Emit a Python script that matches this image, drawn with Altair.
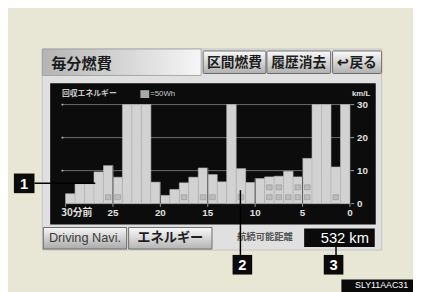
import altair as alt
import pandas as pd

# ---------------- data ----------------
# per-minute fuel economy (km/L), oldest (30 min ago) -> newest
fuel_km_l = [3.0, 6.0, 6.0, 9.6, 11.5, 8.0, 30.0, 30.0, 30.0, 6.5,
             2.5, 4.3, 6.3, 8.0, 10.8, 8.8, 6.6, 30.0, 10.6, 6.4,
             7.6, 8.1, 8.3, 9.8, 8.1, 13.7, 30.0, 30.0, 11.1, 30.0]
# regenerated energy blocks per minute (1 block = 50Wh)
regen_blocks = [0, 0, 0, 0, 1, 1, 0, 0, 0, 0, 0, 0, 1, 0, 1, 1, 0, 0, 1, 0,
                0, 2, 2, 1, 2, 2, 0, 0, 1, 0]
x_ticks = [30, 25, 20, 15, 10, 5, 0]
x_tick_labels = ["30分前", "25", "20", "15", "10", "5", "0"]
y_ticks = [0, 10, 20, 30]
y_tick_labels = ["0", "10", "20", "30"]
grid_levels = [10, 20, 30]
range_km = 532

# ---------------- tables ----------------
n = len(fuel_km_l)
bars = pd.DataFrame({
    "start": [30 - i for i in range(n)],
    "end": [29 - i for i in range(n)],
    "kml": fuel_km_l,
})
blk_rows = []
for i, c in enumerate(regen_blocks):
    for k in range(c):
        blk_rows.append({"start": 30 - i, "end": 29 - i,
                         "b0": 1.2 + 3.0 * k, "b1": 2.7 + 3.0 * k})
blocks = pd.DataFrame(blk_rows)
marks5 = []
for t in x_ticks[1:-1]:
    i = 30 - t
    marks5.append({"t": t, "top": max(fuel_km_l[i - 1], fuel_km_l[i])})
marks5 = pd.DataFrame(marks5)
grid = pd.DataFrame({"v": grid_levels})
xt = pd.DataFrame({"t": x_ticks, "lab": x_tick_labels})
yt = pd.DataFrame({"v": y_ticks, "lab": y_tick_labels})
one = pd.DataFrame({"k": [0]})

# ---------------- layout helpers (page pixels -> plot pixels) ----------------
X0, Y0 = 66.7, 103.7
W, H = 290, 101


def vx(X):
    return X - X0


def vy(Y):
    return Y - Y0


def box(x1, y1, x2, y2, fill, stroke=None, sw=0, **kw):
    m = dict(fill=fill, **kw)
    if stroke:
        m.update(stroke=stroke, strokeWidth=sw)
    return alt.Chart(one).mark_rect(**m).encode(
        x=alt.value(vx(x1)), x2=alt.value(vx(x2)),
        y=alt.value(vy(y1)), y2=alt.value(vy(y2)))


def label(X, Y, s, size, color, weight="normal", font="Noto Sans CJK JP",
          align="center", **kw):
    return alt.Chart(one).mark_text(
        text=s, fontSize=size, color=color, fontWeight=weight, font=font,
        align=align, baseline="middle", **kw).encode(
        x=alt.value(vx(X)), y=alt.value(vy(Y)))


def line(x1, y1, x2, y2, color="#000000", w=1.5):
    return alt.Chart(one).mark_rule(color=color, strokeWidth=w).encode(
        x=alt.value(vx(x1)), x2=alt.value(vx(x2)),
        y=alt.value(vy(y1)), y2=alt.value(vy(y2)))


def vgrad(c1, c2):
    return alt.LinearGradient(gradient="linear", x1=0, x2=0, y1=0, y2=1,
                              stops=[alt.GradientStop(color=c1, offset=0),
                                     alt.GradientStop(color=c2, offset=1)])


def hgrad(c1, c2):
    return alt.LinearGradient(gradient="linear", x1=0, x2=1, y1=0, y2=0,
                              stops=[alt.GradientStop(color=c1, offset=0),
                                     alt.GradientStop(color=c2, offset=1)])


xs = alt.Scale(domain=[30, 0], nice=False, zero=False)
ys = alt.Scale(domain=[0, 30], nice=False)

layers = []
# panel
layers.append(box(43, 47, 389, 252, "#e0e0e0", "#c4c4c4", 1))
# title bar
layers.append(box(43, 47, 205, 74, hgrad("#b4b4b4", "#f6f6f6"), "#9a9a9a", 0.8))
layers.append(label(52, 62, "毎分燃費", 15.5, "#1c1c1c", "bold", align="left"))
# top buttons
for (a, b, s) in [(207, 271, "区間燃費"), (272, 337, "履歴消去"), (339, 389, "↩戻る")]:
    layers.append(box(a, 49, b, 72, vgrad("#fafafa", "#b0b0b0"), "#6a6a6a", 1,
                      cornerRadius=1))
    layers.append(label((a + b) / 2, 61, s, 14, "#1e1e1e", "bold"))
# bottom buttons
layers.append(box(44, 229, 129, 251, vgrad("#f6f6f6", "#aaaaaa"), "#6a6a6a", 1))
layers.append(label(86.5, 240, "Driving Navi.", 13, "#3a3a3a",
                    font="Liberation Sans"))
layers.append(box(131, 229, 216, 251, vgrad("#fafafa", "#b4b4b4"), "#6a6a6a", 1))
layers.append(label(173.5, 240, "エネルギー", 13.5, "#1e1e1e", "bold"))
layers.append(label(270, 239, "航続可能距離", 9.5, "#555555", "bold"))
layers.append(box(310, 230, 382, 249, "#0a0a0a"))
layers.append(label(351.5, 240, f"{range_km} km", 15, "#ffffff",
                    font="Liberation Sans"))
# chart background
layers.append(box(51, 82, 383, 226, "#0c0c0c"))
layers.append(label(63, 93, "回収エネルギー", 8, "#c8c8c8", "bold", align="left"))
layers.append(box(143, 89, 152, 97, "#a8a8a8"))
layers.append(label(153, 93, "=50Wh", 8, "#c8c8c8", align="left",
                    font="Liberation Sans"))
layers.append(label(368, 93, "km/L", 8, "#e0e0e0", "bold",
                    font="Liberation Sans"))

# gridlines (with start dots)
layers.append(alt.Chart(grid).mark_rule(color="#6e6e6e", strokeWidth=1).encode(
    y=alt.Y("v:Q", scale=ys, axis=None),
    x=alt.value(vx(63)), x2=alt.value(vx(360))))
layers.append(alt.Chart(grid).mark_square(color="#bdbdbd", size=3, opacity=1).encode(
    y=alt.Y("v:Q", scale=ys, axis=None), x=alt.value(vx(63.5))))

# bars
layers.append(alt.Chart(bars).mark_rect(
    fill="#d2d2d2", stroke="#b8b8b8", strokeWidth=0.6).encode(
    x=alt.X("start:Q", scale=xs, axis=None),
    x2="end:Q",
    y=alt.Y("kml:Q", scale=ys, axis=None),
    y2=alt.datum(0)))

# regen blocks
layers.append(alt.Chart(blocks).mark_rect(
    fill="#bcbcbc", stroke="#949494", strokeWidth=0.6,
    xOffset=2, x2Offset=-2).encode(
    x=alt.X("start:Q", scale=xs, axis=None), x2="end:Q",
    y=alt.Y("b0:Q", scale=ys, axis=None), y2="b1:Q"))

# 5-minute markers
layers.append(alt.Chart(marks5).mark_rule(color="#555555", strokeWidth=1).encode(
    x=alt.X("t:Q", scale=xs, axis=None),
    y=alt.Y("top:Q", scale=ys, axis=None), y2=alt.datum(0)))

# x axis: ticks + labels (through the x scale)
layers.append(alt.Chart(xt).mark_rule(color="#9a9a9a", strokeWidth=1).encode(
    x=alt.X("t:Q", scale=xs, axis=None),
    y=alt.value(vy(204.5)), y2=alt.value(vy(208))))
layers.append(alt.Chart(xt).transform_filter("datum.t == 30").mark_text(
    align="left", baseline="middle", dx=-4.5, fontSize=10, fontWeight="bold",
    font="Noto Sans CJK JP", color="#e0e0e0").encode(
    x=alt.X("t:Q", scale=xs, axis=None), y=alt.value(vy(214)), text="lab:N"))
layers.append(alt.Chart(xt).transform_filter("datum.t != 30").mark_text(
    align="center", baseline="middle", fontSize=10, fontWeight="bold",
    font="Liberation Sans", color="#e0e0e0").encode(
    x=alt.X("t:Q", scale=xs, axis=None), y=alt.value(vy(214)), text="lab:N"))
# y axis (right): ticks + labels (through the y scale)
layers.append(alt.Chart(yt).mark_rule(color="#9a9a9a", strokeWidth=1).encode(
    y=alt.Y("v:Q", scale=ys, axis=None),
    x=alt.value(vx(358)), x2=alt.value(vx(361))))
layers.append(alt.Chart(yt).mark_text(
    align="left", baseline="middle", fontSize=10, fontWeight="bold",
    font="Liberation Sans", color="#e0e0e0").encode(
    y=alt.Y("v:Q", scale=ys, axis=None), x=alt.value(vx(364)), text="lab:N"))

# callouts
layers.append(line(35, 184, 97, 184))
layers.append(box(14, 174, 35, 194, "#0a0a0a"))
layers.append(label(24.5, 184.5, "1", 15, "#ffffff", "bold", font="Liberation Sans"))
layers.append(line(245, 191, 245, 257))
layers.append(box(237, 257, 257, 277, "#0a0a0a"))
layers.append(label(247, 267.5, "2", 15, "#ffffff", "bold", font="Liberation Sans"))
layers.append(line(342.5, 249, 342.5, 257))
layers.append(box(330, 257, 350, 277, "#0a0a0a"))
layers.append(label(340, 267.5, "3", 15, "#ffffff", "bold", font="Liberation Sans"))
layers.append(box(348, 282, 425, 296, "#0a0a0a"))
layers.append(label(389, 287.5, "SLY11AAC31", 9, "#ffffff", font="Liberation Sans"))

chart = alt.layer(*layers).properties(
    width=W, height=H,
    autosize=alt.AutoSizeParams(type="none"),
    padding={"left": X0 - 8, "top": Y0 - 8,
             "right": 421 - 8 - (X0 - 8) - W, "bottom": 292 - 8 - (Y0 - 8) - H},
    background="#e8e6d4",
).configure_view(strokeWidth=0)

chart.save("out.html", embed_options={"renderer": "svg", "actions": False})
